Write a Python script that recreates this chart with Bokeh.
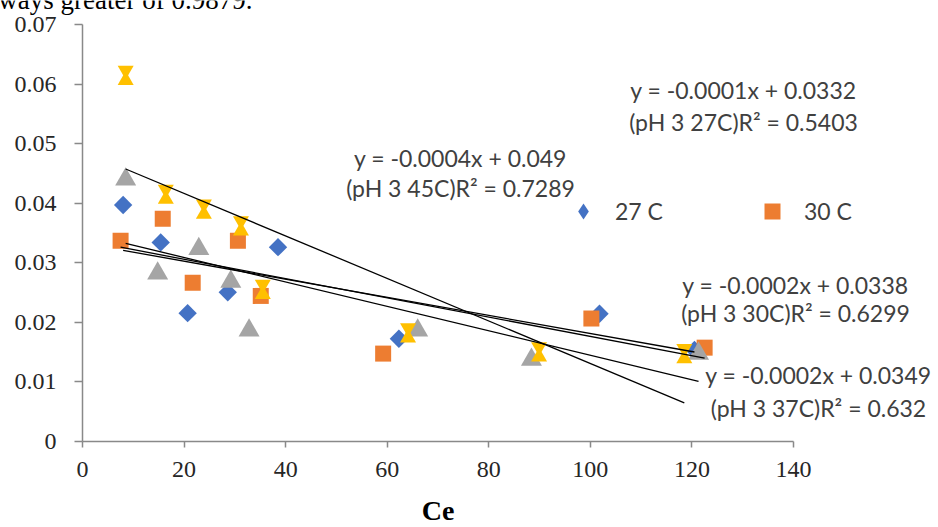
import numpy as np
from bokeh.plotting import figure
from bokeh.models import (Range1d, FixedTicker, NumeralTickFormatter, Label,
                          Legend, LegendItem, ColumnDataSource)
from bokeh.transform import dodge
from bokeh.embed import file_html
from bokeh.resources import INLINE

# ---- data ----
x_27 = [8.0, 15.4, 20.7, 28.6, 38.5, 62.3, 101.8, 120.5]
y_27 = [0.0397, 0.0334, 0.0215, 0.0250, 0.0326, 0.0172, 0.0214, 0.0153]
x_30 = [7.5, 15.8, 21.7, 30.6, 35.1, 59.2, 100.2, 122.5]
y_30 = [0.0337, 0.0374, 0.0266, 0.0337, 0.0244, 0.0147, 0.0206, 0.0157]
x_37 = [8.5, 14.8, 22.9, 29.2, 32.8, 66.0, 88.4, 121.3]
y_37 = [0.0445, 0.0287, 0.0328, 0.0273, 0.0191, 0.0191, 0.0142, 0.0152]
x_45 = [8.5, 16.4, 23.9, 31.2, 35.5, 64.1, 89.9, 118.5]
y_45 = [0.0615, 0.0415, 0.0390, 0.0362, 0.0255, 0.0182, 0.0150, 0.0147]

legend_labels = ["27 C", "30 C"]
x_ticks = [0, 20, 40, 60, 80, 100, 120, 140]
y_ticks = [0, 0.01, 0.02, 0.03, 0.04, 0.05, 0.06, 0.07]

eq_27 = ["y = -0.0001x + 0.0332", "(pH 3 27C)R\u00b2 = 0.5403"]
eq_45 = ["y = -0.0004x + 0.049", "(pH 3 45C)R\u00b2 = 0.7289"]
eq_30 = ["y = -0.0002x + 0.0338", "(pH 3 30C)R\u00b2 = 0.6299"]
eq_37 = ["y = -0.0002x + 0.0349", "(pH 3 37C)R\u00b2 = 0.632"]
top_text = "ways greater of 0.9879."

# ---- layout constants (pixels) ----
W, H = 938, 527
X0, Y0 = 82, 440.5                     # pixel position of the (0, 0) corner
AXIS_W, AXIS_H = 711, 416.2            # pixel length of the 0..140 and 0..0.07 axes
XMAX, YMAX = 140, 0.07
PXX = AXIS_W / XMAX
PXY = AXIS_H / YMAX

def px2x(px):
    return (px - X0) / PXX

def py2y(py):
    return (Y0 - py) / PXY

# the frame fills the whole canvas; axes are pinned at x = 0 and y = 0
p = figure(width=W, height=H,
           x_range=Range1d(px2x(0), px2x(W)), y_range=Range1d(py2y(H), py2y(0)),
           output_backend="svg", toolbar_location=None,
           min_border_left=0, min_border_right=0, min_border_top=0, min_border_bottom=0)
p.outline_line_color = None
p.grid.visible = False
p.background_fill_color = "white"
p.border_fill_color = "white"

BLUE, ORANGE, GRAY, GOLD = "#4472C4", "#ED7D31", "#A5A5A5", "#FFC000"

s27 = ColumnDataSource(dict(x=x_27, y=y_27))
s30 = ColumnDataSource(dict(x=x_30, y=y_30))
s37 = ColumnDataSource(dict(x=x_37, y=y_37))
s45 = ColumnDataSource(dict(x=x_45, y=y_45))

px_y = 1 / PXY  # data units per pixel

# diamond key (used by the legend), hidden under the wider rotated squares
r27_key = p.scatter("x", "y", source=s27, marker="diamond", size=14,
                    fill_color=BLUE, line_color=None)
p.scatter("x", "y", source=s27, marker="square", angle=np.pi / 4, size=13,
          fill_color=BLUE, line_color=None)
r30 = p.scatter("x", "y", source=s30, marker="square", size=16,
                fill_color=ORANGE, line_color=None)
p.scatter("x", dodge("y", -3 * px_y, range=p.y_range), source=s37,
          marker="triangle", size=21, fill_color=GRAY, line_color=None)
p.scatter("x", dodge("y", 5 * px_y, range=p.y_range), source=s45,
          marker="inverted_triangle", size=16, fill_color=GOLD, line_color=None)
p.scatter("x", dodge("y", -5 * px_y, range=p.y_range), source=s45,
          marker="triangle", size=16, fill_color=GOLD, line_color=None)

# linear trendlines fitted to each series
for xs, ys in [(x_27, y_27), (x_30, y_30), (x_37, y_37), (x_45, y_45)]:
    coef = np.polyfit(xs, ys, 1)
    xe = [min(xs), max(xs)]
    p.line(xe, list(np.polyval(coef, xe)), line_color="black", line_width=1.3)

# axes
AX = "#898989"
for ax in (p.xaxis[0], p.yaxis[0]):
    ax.fixed_location = 0
    ax.axis_line_color = AX
    ax.axis_line_width = 1.5
    ax.major_tick_line_color = AX
    ax.major_tick_line_width = 1.5
    ax.major_tick_in = 0
    ax.minor_tick_line_color = None
    ax.major_label_text_font = "Liberation Serif"
    ax.major_label_text_font_size = "24px"
    ax.major_label_text_color = "#262626"

p.xaxis.bounds = (0, XMAX)
p.xaxis.ticker = FixedTicker(ticks=x_ticks)
p.xaxis.major_tick_out = 6
p.xaxis.major_label_standoff = 15
p.xaxis.axis_label = "Ce"
p.xaxis.axis_label_text_font = "Liberation Serif"
p.xaxis.axis_label_text_font_style = "bold"
p.xaxis.axis_label_text_font_size = "28px"
p.xaxis.axis_label_text_color = "black"
p.xaxis.axis_label_standoff = 14

p.yaxis.bounds = (0, YMAX)
p.yaxis.ticker = FixedTicker(ticks=y_ticks)
p.yaxis.formatter = NumeralTickFormatter(format="0.[00]")
p.yaxis.major_tick_out = 8
p.yaxis.major_label_standoff = 18

# legend
legend = Legend(items=[LegendItem(label=legend_labels[0], renderers=[r27_key]),
                       LegendItem(label=legend_labels[1], renderers=[r30])],
                orientation="horizontal", location=(563, 296),
                glyph_width=40, glyph_height=40, label_standoff=12, spacing=89,
                padding=0, margin=0, border_line_color=None,
                background_fill_alpha=0,
                label_text_font="Lato", label_text_font_size="23px",
                label_text_color="#404040")
p.add_layout(legend)

# trendline equations
FONT = "Lato"
TXT = "#404040"
def add_pair(lines, cx, y1, y2):
    for t, yy in zip(lines, (y1, y2)):
        p.add_layout(Label(x=px2x(cx), y=py2y(yy), text=t, text_font=FONT,
                           text_font_size="23px", text_color=TXT,
                           text_align="center", text_baseline="middle"))

add_pair(eq_27, 743, 89, 121)
add_pair(eq_45, 460, 157, 187)
add_pair(eq_30, 795, 284, 312)
add_pair(eq_37, 818, 374, 407)

p.add_layout(Label(x=px2x(252), y=py2y(-0.5), text=top_text, text_font="Liberation Serif",
                   text_font_size="27px", text_color="black",
                   text_align="right", text_baseline="alphabetic"))

open("out.html", "w").write(file_html(p, INLINE))
